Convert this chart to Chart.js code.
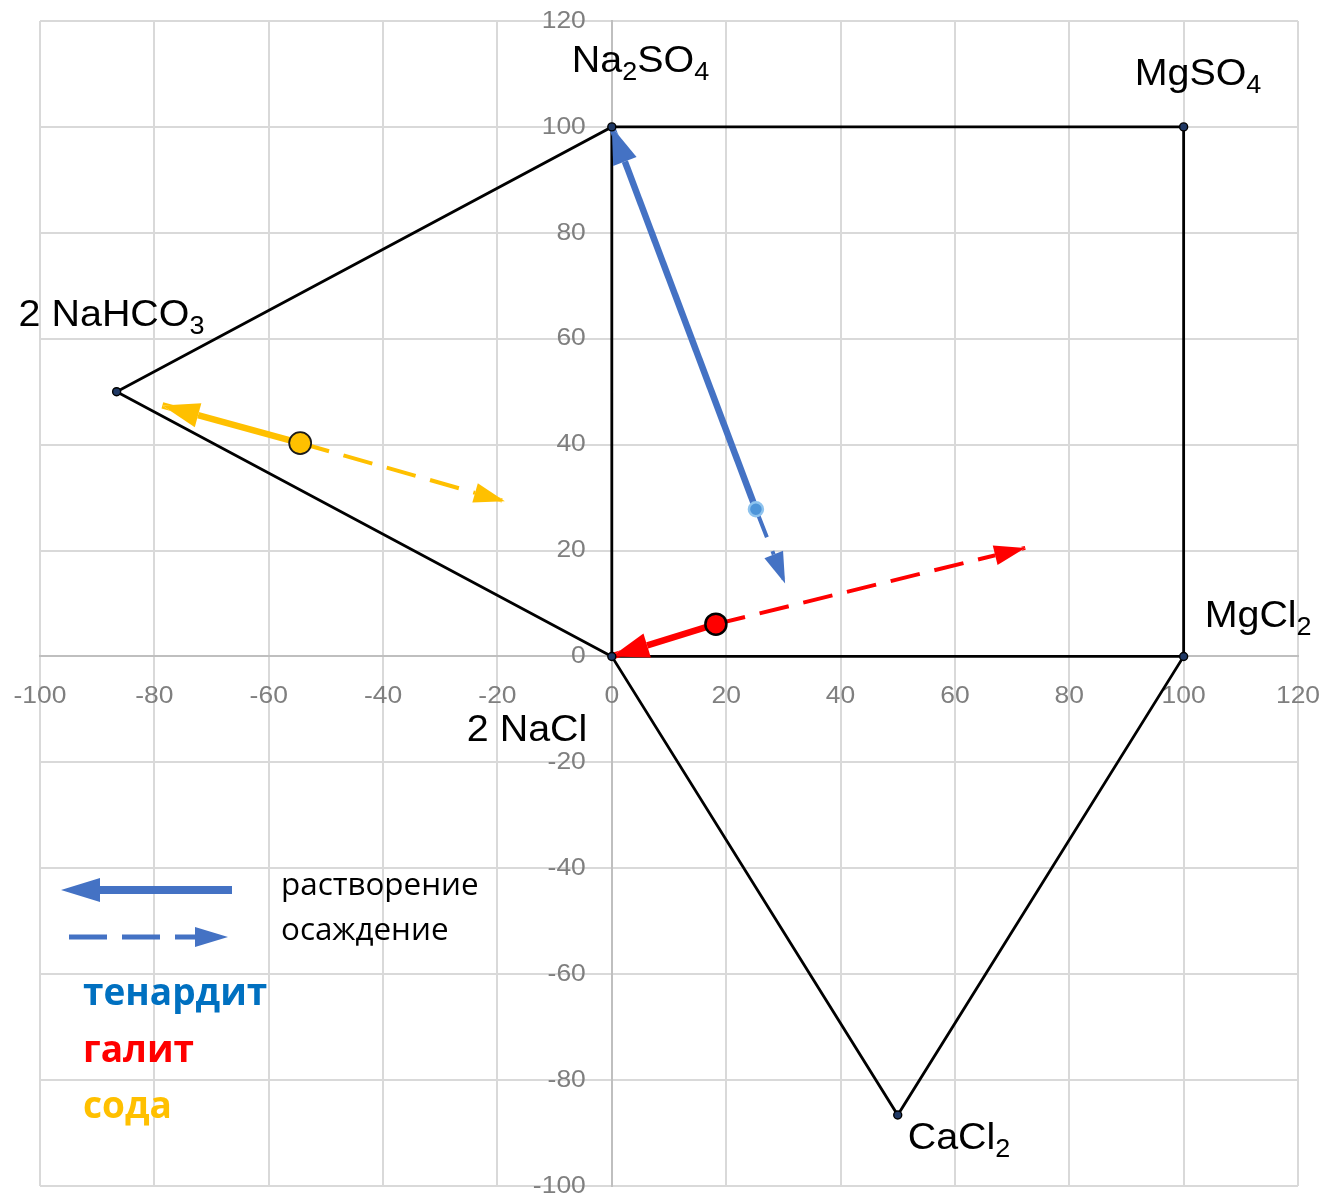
<!DOCTYPE html>
<html><head><meta charset="utf-8">
<script src="https://cdn.jsdelivr.net/npm/chart.js@4.4.1/dist/chart.umd.min.js"></script>
<style>html,body{margin:0;padding:0;background:#fff;overflow:hidden}#wrap{width:1324px;height:1199px;position:relative}</style>
</head><body><div id="wrap"><canvas id="c"></canvas></div>
<script>
// ---------- DATA ----------
const vertexNames = ['2 NaCl', '2 NaHCO3', 'Na2SO4', 'MgSO4', 'MgCl2', 'CaCl2'];
const vertexX = [0, -86.6, 0, 100, 100, 50];
const vertexY = [0, 50, 100, 100, 0, -86.6];
const outlinePath = [0, 1, 2, 3, 4, 5, 0, 2];
const innerEdge = [0, 4];

const mineralNames = ['тенардит', 'галит', 'сода'];
const pointX = [25.2, 18.2, -54.5];
const pointY = [27.8, 6.1, 40.3];
const dissolveX = [0, 0, -78.6];
const dissolveY = [100, 0, 47.4];
const precipX = [30.3, 72.3, -18.7];
const precipY = [13.8, 20.5, 29.3];

const legendLabels = ['растворение', 'осаждение'];
const xTickValues = [-100, -80, -60, -40, -20, 0, 20, 40, 60, 80, 100, 120];
const yTickValues = [-100, -80, -60, -40, -20, 0, 20, 40, 60, 80, 100, 120];

// ---------- STYLE ----------
const mineralColors = ['#4472C4', '#FF0000', '#FFC000'];
const mineralTextColors = ['#0070C0', '#FF0000', '#FFC000'];
const markerStyles = [
  {bg: '#4E95D9', border: '#8EC3EE', r: 7, bw: 2.5},
  {bg: '#FF0000', border: '#000000', r: 10.5, bw: 2.5},
  {bg: '#FFC000', border: '#1a1a1a', r: 11, bw: 1.8}
];
const SX = 1.08; // horizontal text stretch of the original picture
const labelOffsets = [[-145, 85], [-98, -66], [-40, -55], [-49, -42], [21, -29], [10, 34]];

const pts = idx => idx.map(i => ({x: vertexX[i], y: vertexY[i]}));

const datasets = [];
mineralNames.forEach((n, i) => {
  const s = markerStyles[i];
  datasets.push({label: n + ' точка', data: [{x: pointX[i], y: pointY[i]}], showLine: false,
    pointRadius: s.r, pointBackgroundColor: s.bg, pointBorderColor: s.border, pointBorderWidth: s.bw, order: 0});
});
datasets.push({label: 'вершины', data: pts([0,1,2,3,4,5]), showLine: false, pointRadius: 4,
  pointBackgroundColor: '#1F3864', pointBorderColor: '#000', pointBorderWidth: 1.4, order: 1});
mineralNames.forEach((n, i) => {
  datasets.push({label: n + ' растворение', data: [{x: pointX[i], y: pointY[i]}, {x: dissolveX[i], y: dissolveY[i]}],
    showLine: true, borderColor: mineralColors[i], borderWidth: 6.5, pointRadius: 0, order: 2,
    arrowLen: 37, arrowHalf: 12.5});
  datasets.push({label: n + ' осаждение', data: [{x: pointX[i], y: pointY[i]}, {x: precipX[i], y: precipY[i]}],
    showLine: true, borderColor: mineralColors[i], borderWidth: 4, borderDash: [30, 15], pointRadius: 0, order: 2,
    arrowLen: 31, arrowHalf: 10});
});
datasets.push({label: 'контур', data: pts(outlinePath), showLine: true, borderColor: '#000', borderWidth: 2.8,
  pointRadius: 0, order: 3});
datasets.push({label: 'ребро', data: pts(innerEdge), showLine: true, borderColor: '#000', borderWidth: 2.8,
  pointRadius: 0, order: 3});

function triangle(x1, y1, x2, y2, len, hw) {
  const dx = x2 - x1, dy = y2 - y1, L = Math.hypot(dx, dy), ux = dx / L, uy = dy / L;
  const bx = x2 - ux * len, by = y2 - uy * len;
  return [[x2, y2], [bx - uy * hw, by + ux * hw], [bx + uy * hw, by - ux * hw]];
}
function arrowTri(chart, ds) {
  const xs = chart.scales.x, ys = chart.scales.y, n = ds.data.length;
  const a = ds.data[n - 2], b = ds.data[n - 1];
  return triangle(xs.getPixelForValue(a.x), ys.getPixelForValue(a.y),
                  xs.getPixelForValue(b.x), ys.getPixelForValue(b.y), ds.arrowLen, ds.arrowHalf);
}
function fillTri(ctx, t, color) {
  ctx.beginPath(); ctx.moveTo(t[0][0], t[0][1]); ctx.lineTo(t[1][0], t[1][1]); ctx.lineTo(t[2][0], t[2][1]);
  ctx.closePath(); ctx.fillStyle = color; ctx.fill();
}
function stretchedText(ctx, text, x, y) {
  ctx.save(); ctx.translate(x, y); ctx.scale(SX, 1); ctx.fillText(text, 0, 0); ctx.restore();
}
function drawChem(ctx, text, x, y, size, subSize, drop) {
  ctx.save(); ctx.translate(x, y); ctx.scale(SX, 1);
  let cx = 0;
  for (let k = 0; k < text.length; k++) {
    const ch = text[k];
    const sub = /[0-9]/.test(ch) && k > 0 && /[A-Za-z]/.test(text[k - 1]);
    ctx.font = (sub ? subSize : size) + 'px "Liberation Sans", Arial, sans-serif';
    ctx.fillText(ch, cx, sub ? drop : 0);
    cx += ctx.measureText(ch).width;
  }
  ctx.restore();
}

const arrowPlugin = {
  id: 'arrows',
  beforeDatasetDraw(chart, args) {
    const ds = chart.data.datasets[args.index];
    if (!ds.arrowLen) return;
    const ctx = chart.ctx, t = arrowTri(chart, ds);
    ctx.save();
    ctx.beginPath();
    ctx.rect(0, 0, chart.width, chart.height);
    ctx.moveTo(t[0][0], t[0][1]); ctx.lineTo(t[1][0], t[1][1]); ctx.lineTo(t[2][0], t[2][1]); ctx.closePath();
    ctx.clip('evenodd');
  },
  afterDatasetDraw(chart, args) {
    const ds = chart.data.datasets[args.index];
    if (!ds.arrowLen) return;
    const ctx = chart.ctx;
    ctx.restore();
    fillTri(ctx, arrowTri(chart, ds), ds.borderColor);
  },
  beforeDatasetsDraw(chart) {
    const ctx = chart.ctx, xs = chart.scales.x, ys = chart.scales.y;
    const x0 = xs.getPixelForValue(0), y0 = ys.getPixelForValue(0);
    ctx.save();
    ctx.fillStyle = '#7f7f7f';
    ctx.font = '24.5px "Liberation Sans", Arial, sans-serif';
    ctx.textBaseline = 'middle';
    ctx.textAlign = 'center';
    xs.ticks.forEach(t => stretchedText(ctx, String(t.value), xs.getPixelForValue(t.value), y0 + 40));
    ctx.textAlign = 'right';
    ys.ticks.forEach(t => stretchedText(ctx, String(t.value), x0 - 26, ys.getPixelForValue(t.value)));
    ctx.restore();
  },
  afterDraw(chart) {
    const ctx = chart.ctx, xs = chart.scales.x, ys = chart.scales.y;
    ctx.save();
    ctx.fillStyle = '#000'; ctx.textBaseline = 'alphabetic'; ctx.textAlign = 'left';
    vertexNames.forEach((n, i) => {
      const px = xs.getPixelForValue(vertexX[i]), py = ys.getPixelForValue(vertexY[i]);
      drawChem(ctx, n, px + labelOffsets[i][0], py + labelOffsets[i][1], 36.5, 25, 8);
    });
    const col = mineralColors[0];
    ctx.strokeStyle = col; ctx.lineCap = 'butt';
    ctx.lineWidth = 8; ctx.setLineDash([]);
    ctx.beginPath(); ctx.moveTo(232, 890); ctx.lineTo(95, 890); ctx.stroke();
    fillTri(ctx, triangle(232, 890, 61, 890, 39, 12), col);
    ctx.lineWidth = 5; ctx.setLineDash([38, 15]);
    ctx.beginPath(); ctx.moveTo(69, 937); ctx.lineTo(196, 937); ctx.stroke();
    ctx.setLineDash([]);
    fillTri(ctx, triangle(69, 937, 228, 937, 33, 10), col);
    ctx.fillStyle = '#000';
    ctx.font = '31.4px "Open Sans", sans-serif';
    ctx.fillText(legendLabels[0], 281, 895);
    ctx.fillText(legendLabels[1], 281, 940);
    ctx.font = 'bold 37px "Open Sans", sans-serif';
    const by = [1005, 1062, 1118];
    mineralNames.forEach((n, i) => { ctx.fillStyle = mineralTextColors[i]; ctx.fillText(n, 83, by[i]); });
    ctx.restore();
  }
};

const gridColor = c => (c.tick && c.tick.value === 0) ? '#bfbfbf' : '#d9d9d9';

new Chart(document.getElementById('c'), {
  type: 'scatter',
  data: {datasets},
  options: {
    responsive: true, maintainAspectRatio: false, animation: false,
    layout: {padding: {left: 40, right: 26, top: 21, bottom: 11}},
    plugins: {legend: {display: false}, tooltip: {enabled: false}},
    scales: {
      x: {type: 'linear', position: {y: 0}, min: -100, max: 120,
        afterBuildTicks: s => { s.ticks = xTickValues.map(v => ({value: v})); },
        grid: {color: gridColor, lineWidth: 2, drawTicks: false},
        border: {display: true, color: '#bfbfbf', width: 2},
        ticks: {display: false}},
      y: {type: 'linear', position: {x: 0}, min: -100, max: 120,
        afterBuildTicks: s => { s.ticks = yTickValues.map(v => ({value: v})); },
        grid: {color: gridColor, lineWidth: 2, drawTicks: false},
        border: {display: true, color: '#bfbfbf', width: 2},
        ticks: {display: false}}
    }
  },
  plugins: [arrowPlugin]
});
</script></body></html>
